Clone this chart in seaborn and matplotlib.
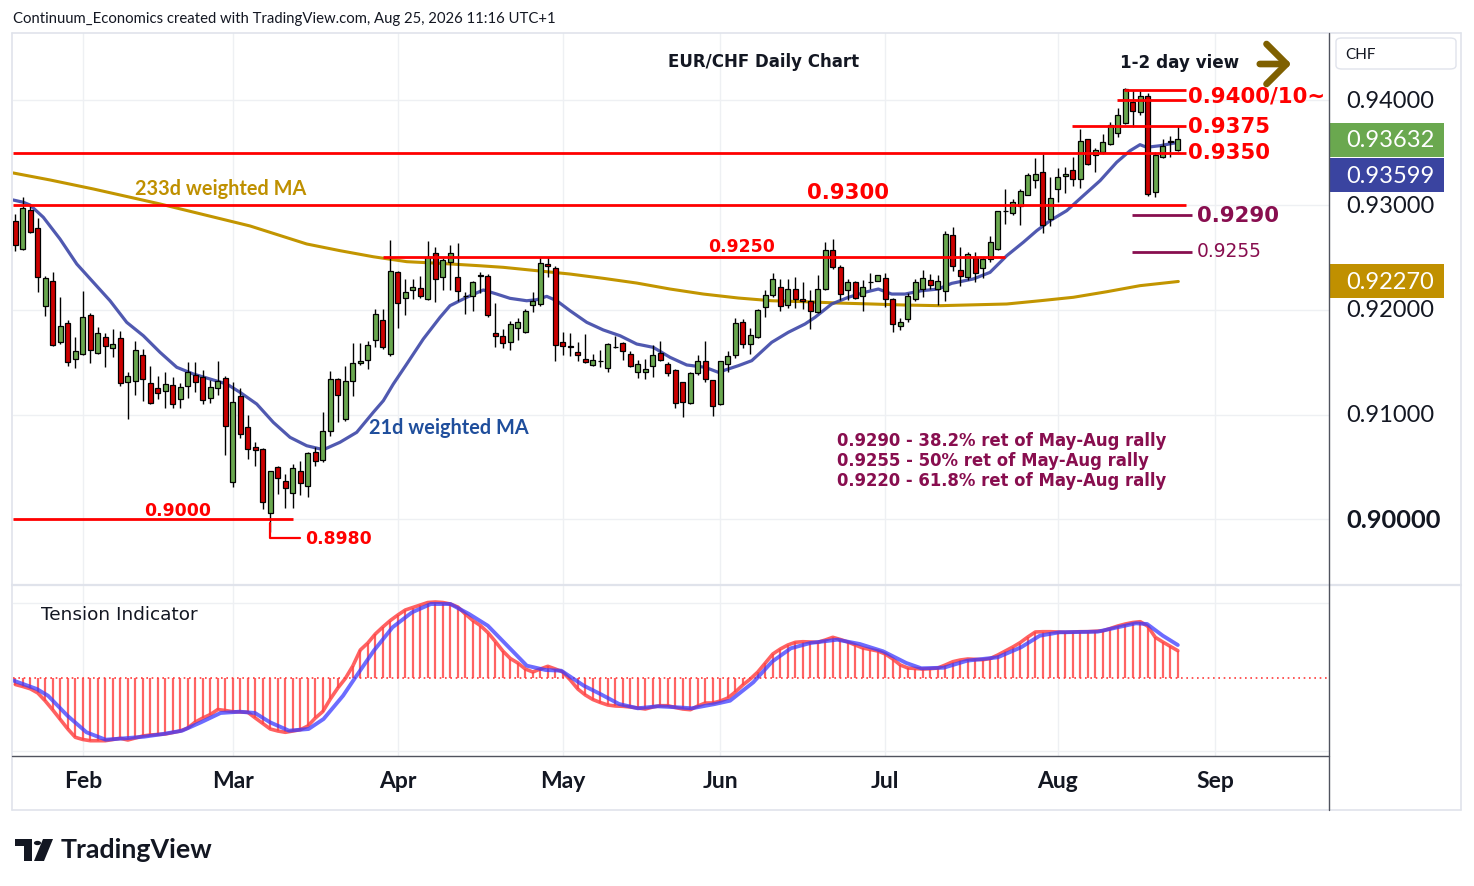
import numpy as np
import pandas as pd
import matplotlib
matplotlib.use("Agg")
import matplotlib.pyplot as plt
import matplotlib.transforms as mtransforms
from matplotlib.patches import Rectangle, Polygon, Circle, FancyArrowPatch, FancyBboxPatch
from matplotlib.lines import Line2D
import seaborn as sns

sns.set_theme(style="white")
plt.rcParams['font.family'] = ['Lato', 'DejaVu Sans']
DV = ['DejaVu Sans']

# ---------------- DATA ----------------
start_date = "2026-01-20"
end_date = "2026-08-25"

opens = [0.92844,0.92580,0.92949,0.92778,0.92039,0.92272,0.91695,0.91871,0.91527,0.91575,
         0.91947,0.91584,0.91737,0.91632,0.91727,0.91307,0.91317,0.91565,0.91298,0.91250,
         0.91221,0.91279,0.91145,0.91269,0.91374,0.91355,0.91155,0.91250,0.91345,0.90353,
         0.91174,0.90878,0.90687,0.90671,0.90057,0.90496,0.90362,0.90248,0.90458,0.90314,
         0.90639,0.90563,0.90839,0.91336,0.90954,0.91317,0.91489,0.91517,0.91708,0.91899,
         0.91575,0.92357,0.92109,0.92186,0.92205,0.92100,0.92539,0.92310,0.92453,0.92310,
         0.92128,0.92128,0.92322,0.92319,0.91775,0.91752,0.91689,0.91823,0.91785,0.92042,
         0.92052,0.92434,0.92396,0.91689,0.91651,0.91594,0.91527,0.91470,0.91508,0.91441,
         0.91641,0.91680,0.91575,0.91403,0.91403,0.91460,0.91584,0.91479,0.91422,0.91307,
         0.91107,0.91393,0.91508,0.91326,0.91097,0.91479,0.91565,0.91880,0.91670,0.91737,
         0.92023,0.92138,0.92214,0.92042,0.92195,0.92100,0.92081,0.91976,0.92195,0.92568,
         0.92405,0.92186,0.92262,0.92128,0.92262,0.92272,0.92300,0.92100,0.91842,0.91909,
         0.92100,0.92195,0.92281,0.92195,0.92176,0.92711,0.92377,0.92310,0.92491,0.92396,
         0.92482,0.92577,0.92940,0.92921,0.92988,0.93093,0.93236,0.93312,0.92863,0.93150,
         0.93274,0.93331,0.93245,0.93627,0.93474,0.93503,0.93579,0.93685,0.93780,0.93980,
         0.93885,0.94038,0.93121,0.93455,0.93599,0.93522]
highs = [0.92914,0.93074,0.93010,0.92873,0.92319,0.92360,0.92119,0.91902,0.91737,0.92179,
         0.91966,0.91835,0.91775,0.91813,0.91794,0.91406,0.91699,0.91622,0.91460,0.91365,
         0.91406,0.91355,0.91298,0.91498,0.91498,0.91422,0.91326,0.91508,0.91365,0.91307,
         0.91250,0.90995,0.90735,0.90680,0.90465,0.90505,0.90432,0.90527,0.90553,0.90645,
         0.90687,0.91027,0.91412,0.91345,0.91460,0.91680,0.91683,0.91699,0.92007,0.92004,
         0.92663,0.92367,0.92294,0.92294,0.92319,0.92653,0.92596,0.92491,0.92615,0.92634,
         0.92167,0.92277,0.92363,0.92341,0.92062,0.91816,0.91890,0.91921,0.92004,0.92167,
         0.92501,0.92501,0.92415,0.91785,0.91775,0.91689,0.91766,0.91575,0.91613,0.91680,
         0.91746,0.91689,0.91603,0.91517,0.91527,0.91661,0.91699,0.91498,0.91431,0.91312,
         0.91403,0.91565,0.91699,0.91329,0.91511,0.91609,0.91918,0.91912,0.91823,0.92007,
         0.92186,0.92348,0.92291,0.92291,0.92310,0.92262,0.92186,0.92329,0.92644,0.92673,
         0.92424,0.92291,0.92272,0.92281,0.92348,0.92332,0.92348,0.92109,0.91918,0.92157,
         0.92291,0.92377,0.92338,0.92329,0.92749,0.92787,0.92596,0.92548,0.92548,0.92501,
         0.92701,0.92942,0.93153,0.93054,0.93150,0.93303,0.93446,0.93484,0.93264,0.93350,
         0.93360,0.93455,0.93723,0.93630,0.93541,0.93675,0.93790,0.93923,0.94114,0.94095,
         0.94095,0.94066,0.93503,0.93627,0.93656,0.93751]
lows = [0.92558,0.92573,0.92733,0.92167,0.91943,0.91650,0.91670,0.91466,0.91444,0.91568,
        0.91494,0.91577,0.91456,0.91552,0.91275,0.90957,0.91189,0.91129,0.91102,0.91148,
        0.91065,0.91065,0.91065,0.91160,0.91212,0.91103,0.91107,0.91189,0.90616,0.90305,
        0.90773,0.90572,0.90505,0.90098,0.89880,0.90241,0.90104,0.90104,0.90234,0.90209,
        0.90505,0.90544,0.90792,0.90925,0.90935,0.91180,0.91475,0.91434,0.91641,0.91625,
        0.91561,0.91823,0.91950,0.92100,0.92109,0.92095,0.92071,0.92186,0.92186,0.92081,
        0.91962,0.91985,0.92157,0.91928,0.91641,0.91632,0.91613,0.91714,0.91780,0.91976,
        0.92033,0.92310,0.91508,0.91571,0.91556,0.91508,0.91495,0.91460,0.91451,0.91403,
        0.91632,0.91517,0.91455,0.91345,0.91336,0.91355,0.91512,0.91365,0.91059,0.90973,
        0.91102,0.91374,0.91307,0.90983,0.91094,0.91403,0.91536,0.91632,0.91575,0.91735,
        0.91928,0.92119,0.91985,0.92014,0.92014,0.92004,0.91813,0.91966,0.92186,0.92386,
        0.92090,0.92090,0.92100,0.91985,0.92195,0.92270,0.92023,0.91785,0.91804,0.91880,
        0.92081,0.92119,0.92195,0.92042,0.92081,0.92367,0.92224,0.92281,0.92262,0.92300,
        0.92453,0.92575,0.92816,0.92902,0.92806,0.93091,0.93159,0.92730,0.92802,0.93026,
        0.93112,0.93179,0.93159,0.93386,0.93312,0.93484,0.93570,0.93646,0.93778,0.93742,
        0.93856,0.93083,0.93074,0.93446,0.93455,0.93520]
closes = [0.92618,0.92968,0.92745,0.92310,0.92300,0.91661,0.91842,0.91498,0.91603,0.91928,
          0.91619,0.91775,0.91651,0.91673,0.91298,0.91365,0.91613,0.91336,0.91107,0.91202,
          0.91288,0.91097,0.91260,0.91403,0.91307,0.91135,0.91260,0.91317,0.90887,0.91116,
          0.90811,0.90668,0.90661,0.90162,0.90458,0.90391,0.90295,0.90486,0.90343,0.90629,
          0.90553,0.90839,0.91336,0.91183,0.91317,0.91489,0.91508,0.91661,0.91957,0.91641,
          0.92367,0.92062,0.92167,0.92214,0.92128,0.92501,0.92291,0.92472,0.92539,0.92176,
          0.92133,0.92262,0.92329,0.91953,0.91746,0.91680,0.91861,0.91880,0.91985,0.92081,
          0.92443,0.92415,0.91661,0.91651,0.91641,0.91565,0.91498,0.91517,0.91511,0.91670,
          0.91644,0.91603,0.91460,0.91479,0.91431,0.91565,0.91517,0.91393,0.91107,0.91116,
          0.91393,0.91508,0.91336,0.91078,0.91508,0.91561,0.91871,0.91670,0.91756,0.91995,
          0.92138,0.92291,0.92033,0.92195,0.92100,0.92081,0.91985,0.92195,0.92568,0.92405,
          0.92147,0.92262,0.92109,0.92214,0.92265,0.92329,0.92100,0.91861,0.91880,0.92128,
          0.92262,0.92300,0.92233,0.92272,0.92720,0.92415,0.92319,0.92529,0.92348,0.92482,
          0.92644,0.92940,0.92943,0.93026,0.93131,0.93284,0.93293,0.92806,0.93064,0.93264,
          0.93293,0.93245,0.93608,0.93389,0.93522,0.93599,0.93761,0.93856,0.94105,0.93895,
          0.94038,0.93102,0.93474,0.93560,0.93608,0.93632]

# Tension indicator (per bar) and its smoothed signal (read at sample bars)
tension = [-0.65,-0.85,-1.08,-1.5,-2.3,-3.2,-4.15,-5.1,-5.93,-6.15,
           -6.27,-6.27,-6.27,-6.15,-6.03,-6.2,-6.0,-5.8,-5.7,-5.65,
           -5.6,-5.45,-5.3,-5.0,-4.4,-4.0,-3.65,-3.15,-3.25,-3.37,
           -3.4,-3.43,-4.0,-4.55,-5.1,-5.3,-5.43,-5.3,-5.17,-4.8,
           -4.0,-3.35,-2.1,-1.0,-0.05,1.2,2.8,3.5,4.4,5.1,
           5.75,6.3,6.8,7.05,7.3,7.55,7.6,7.55,7.4,7.1,
           6.4,5.75,5.25,4.55,3.65,2.7,1.95,1.5,0.9,0.6,
           0.9,1.17,0.9,0.6,-0.2,-1.1,-1.7,-2.15,-2.45,-2.7,
           -2.8,-2.83,-2.9,-3.0,-3.1,-2.9,-2.77,-2.77,-2.95,-3.1,
           -3.17,-2.8,-2.5,-2.5,-2.3,-2.0,-1.4,-0.7,-0.1,0.6,
           1.5,2.4,2.9,3.3,3.57,3.63,3.6,3.57,3.8,4.07,
           3.85,3.6,3.3,3.0,2.85,2.7,2.4,1.9,1.3,1.0,
           0.95,0.9,0.93,1.0,1.3,1.63,1.8,1.9,1.87,1.83,
           1.95,2.3,2.7,3.1,3.55,4.1,4.6,4.63,4.63,4.6,
           4.57,4.6,4.63,4.63,4.67,4.72,4.95,5.2,5.4,5.55,
           5.63,5.17,4.07,3.6,3.17,2.73]
signal_bar = [-0.2,2.87,4.36,6.95,9.49,12.05,14.6,17.16,19.69,22.23,24.76,27.36,29.9,31.96,33.96,
              36.49,39.1,41.1,43.7,45.2,47.8,50.3,52.9,55.4,58.0,60.5,63.0,65.6,68.2,70.7,72.8,
              75.8,78.0,80.5,83.0,85.6,88.2,90.2,93.3,95.3,98.4,100.9,103.4,106.0,109.6,112.6,
              115.7,118.8,120.8,123.8,126.9,131.0,134.1,136.6,139.2,144.3,149.4,150.9,153.0,155.0]
signal_val = [-0.27,-1.1,-1.77,-3.77,-5.43,-6.17,-6.03,-5.87,-5.6,-5.27,-4.43,-3.5,-3.37,-3.5,-4.43,
              -5.27,-5.1,-4.1,-1.77,-0.1,2.73,5.07,6.57,7.4,7.4,6.4,5.23,3.23,1.23,0.8,0.73,
              -0.77,-1.6,-2.6,-3.03,-2.83,-2.93,-3.03,-2.6,-2.27,-0.43,1.63,2.97,3.5,3.83,3.4,
              2.67,1.5,0.97,1.03,1.73,2.07,3.07,4.23,4.57,4.63,5.47,5.4,4.23,3.3]

# Moving averages read at sample bars
ma21_bar = [-0.3,1.07,1.96,3.73,5.96,8.19,10.4,12.63,14.85,17.07,19.29,21.52,23.73,25.96,28.19,29.96,
            32.19,34.4,36.63,38.85,41.07,43.29,45.52,47.73,49.07,50.4,52.19,54.4,56.63,57.96,60.19,
            62.4,64.19,65.96,68.19,69.52,70.85,72.19,73.96,76.19,78.4,80.63,82.85,85.07,87.29,89.52,
            91.96,93.73,96.4,98.19,100.85,103.07,105.29,106.63,108.85,111.07,113.29,115.07,116.85,
            118.63,120.85,123.07,124.85,127.73,129.96,132.19,134.4,136.19,137.96,140.19,142.4,144.63,
            146.85,148.63,149.96,150.85,152.63,155.07]
ma21_val = [0.93048,0.93026,0.93000,0.92883,0.92675,0.92437,0.92262,0.92086,0.91880,0.91752,0.91594,
            0.91451,0.91387,0.91339,0.91291,0.91212,0.91100,0.90925,0.90782,0.90702,0.90664,0.90735,
            0.90830,0.91021,0.91132,0.91291,0.91482,0.91721,0.91928,0.92039,0.92119,0.92189,0.92150,
            0.92109,0.92086,0.92096,0.92128,0.92086,0.91991,0.91880,0.91807,0.91752,0.91673,0.91641,
            0.91546,0.91473,0.91451,0.91403,0.91466,0.91514,0.91689,0.91785,0.91864,0.91928,0.92055,
            0.92119,0.92167,0.92198,0.92150,0.92150,0.92182,0.92198,0.92252,0.92294,0.92357,0.92516,
            0.92644,0.92755,0.92850,0.92946,0.93089,0.93232,0.93408,0.93518,0.93576,0.93551,0.93566,
            0.93599]
ma233_bar = [-0.3,4.63,10.4,19.29,31.29,38.85,43.29,47.73,52.19,56.63,61.96,65.07,69.52,73.96,78.4,
             82.85,87.29,91.73,96.4,100.85,105.29,109.73,114.19,118.63,123.29,132.19,136.63,141.07,
             145.52,149.96,155.07]
ma233_val = [0.93306,0.93239,0.93153,0.93010,0.92800,0.92628,0.92564,0.92506,0.92459,0.92443,0.92420,
             0.92405,0.92373,0.92341,0.92300,0.92255,0.92198,0.92150,0.92112,0.92086,0.92077,0.92064,
             0.92055,0.92045,0.92039,0.92055,0.92086,0.92119,0.92172,0.92230,0.92270]

month_labels = ["Feb", "Mar", "Apr", "May", "Jun", "Jul", "Aug", "Sep"]
price_ticks = [0.90, 0.91, 0.92, 0.93, 0.94]
price_tick_labels = ["0.90000", "0.91000", "0.92000", "0.93000", "0.94000"]

red_level_prices = [0.9410, 0.9400, 0.9375, 0.9350, 0.9300, 0.9250, 0.9000]
purple_level_prices = [0.9290, 0.9255]
low_mark_price = 0.8982
retracement_notes = ["0.9290 - 38.2% ret of May-Aug rally",
                     "0.9255 - 50% ret of May-Aug rally",
                     "0.9220 - 61.8% ret of May-Aug rally"]

# ---------------- FIGURE ----------------
W, H = 1474, 887
fig = plt.figure(figsize=(W / 100, H / 100), dpi=100)
fig.patch.set_facecolor("white")


def fx(x):
    return x / W


def fy(y):
    return 1 - y / H


ax = fig.add_axes([fx(13), fy(585), (1329 - 13) / W, (585 - 34) / H])
axi = fig.add_axes([fx(13), fy(757), (1329 - 13) / W, (757 - 586) / H], sharex=ax)

dates = pd.bdate_range(start_date, end_date)
n = len(dates)
xb = np.arange(n)
o = np.array(opens); h = np.array(highs); l = np.array(lows); c = np.array(closes)

# month tick positions from an extended business-day calendar
cal = pd.bdate_range(start_date, "2026-09-30")
firsts = pd.Series(np.arange(len(cal)), index=cal).groupby([cal.year, cal.month]).first()
month_pos = [int(firsts.loc[(2026, m)]) for m in range(2, 10)]

grid_c = "#eef0f3"
for a in (ax, axi):
    a.set_facecolor("white")
    for s in a.spines.values():
        s.set_visible(False)
    a.set_xticks(month_pos)
    a.grid(True, color=grid_c, lw=1.0, zorder=0)
    a.tick_params(left=False, right=False, bottom=False, top=False, labelleft=False)

ax.set_xlim(-0.31, 175.16)
ax.set_ylim(0.89382, 0.94642)
ax.set_yticks(price_ticks)
ax.tick_params(labelbottom=False)

# moving averages
sns.lineplot(x=ma233_bar, y=ma233_val, ax=ax, color="#c29500", lw=2.2, zorder=2, sort=False, estimator=None)
sns.lineplot(x=ma21_bar, y=ma21_val, ax=ax, color="#3d47a8", lw=2.3, alpha=0.9, zorder=2, sort=False, estimator=None)

# candles
up = c >= o
body_lo = np.minimum(o, c)
body_h = np.maximum(np.abs(c - o), 0.00004)
ax.vlines(xb, l, h, color="black", lw=1.0, zorder=3)
ax.bar(xb[up], body_h[up], bottom=body_lo[up], width=0.66, color="#6aa84f", edgecolor="black", linewidth=0.9, zorder=4)
ax.bar(xb[~up], body_h[~up], bottom=body_lo[~up], width=0.66, color="#cc0000", edgecolor="black", linewidth=0.9, zorder=4)

# level lines
RED = "#ff0000"
PURP = "#880e4f"
level_extents = [(147.8, 156.1), (146.9, 156.1), (140.9, 156.1), (-0.31, 156.1), (-0.31, 156.1), (49.0, 132.0), (-0.31, 37.0)]
for p, (x0, x1) in zip(red_level_prices, level_extents):
    ax.plot([x0, x1], [p, p], color=RED, lw=2.0, zorder=6, solid_capstyle="butt")
for p in purple_level_prices:
    ax.plot([148.9, 156.85], [p, p], color=PURP, lw=2.0, zorder=6, solid_capstyle="butt")
low_bar = int(np.argmin(l))
ax.plot([low_bar, low_bar, low_bar + 4.0], [0.8996, low_mark_price, low_mark_price], color=RED, lw=1.6, zorder=6)

# level labels
big = dict(family=DV, fontsize=15.3, fontweight="bold", va="center", ha="left", zorder=7)
mid = dict(family=DV, fontsize=12.4, fontweight="bold", va="center", zorder=7)
ax.text(156.36, 0.94050, "0.9400/10~", color=RED, **big)
ax.text(156.36, 0.93754, "0.9375", color=RED, **big)
ax.text(156.36, 0.93506, "0.9350", color=RED, **big)
ax.text(157.56, 0.92905, "0.9290", color=PURP, **big)
ax.text(157.56, 0.92561, "0.9255", color=PURP, family=DV, fontsize=13.4, va="center", ha="left", zorder=7)
ax.text(111.0, 0.93124, "0.9300", color=RED, family=DV, fontsize=15.3, fontweight="bold", va="center", ha="center", zorder=7)
ax.text(96.9, 0.92609, "0.9250", color=RED, ha="center", **mid)
ax.text(21.7, 0.90088, "0.9000", color=RED, ha="center", **mid)
ax.text(38.6, 0.89821, "0.8980", color=RED, ha="left", **mid)
ax.text(15.96, 0.93162, "233d weighted MA", color="#bf9000", fontsize=14.3, fontweight="bold", va="center", ha="left", zorder=7)
ax.text(47.2, 0.90881, "21d weighted MA", color="#1f4e9c", fontsize=14.3, fontweight="bold", va="center", ha="left", zorder=7)
for k, note in enumerate(retracement_notes):
    ax.text(109.6, 0.90756 - k * 0.00191, note, color=PURP, family=DV, fontsize=11.9, fontweight="bold",
            va="center", ha="left", zorder=7)

# ---------------- Tension indicator ----------------
axi.set_ylim(-7.8, 9.3)
axi.set_yticks([-7.3, 7.5])
axi.vlines(xb, 0, tension, color="#ff5252", lw=1.6, alpha=0.9, zorder=2)
axi.axhline(0, color="#ff3b3b", lw=1.2, ls=(0, (1, 2.2)), zorder=2)
sns.lineplot(x=xb, y=tension, ax=axi, color="#ff4545", lw=2.6, alpha=0.85, zorder=3, estimator=None)
sns.lineplot(x=signal_bar, y=signal_val, ax=axi, color="#3b3bff", lw=2.8, alpha=0.75, zorder=4, sort=False, estimator=None)
axi.set_xticklabels(month_labels, fontsize=16.5, fontweight="bold", color="#131722")
axi.tick_params(labelbottom=True, pad=4)
axi.set_xlabel(""); axi.set_ylabel(""); ax.set_xlabel(""); ax.set_ylabel("")
fig.text(fx(41), fy(615), "Tension Indicator", family=DV, fontsize=13.3, color="#131722", va="center", ha="left")

# ---------------- Right price scale ----------------
bt = mtransforms.blended_transform_factory(fig.transFigure, ax.transData)
for p, lab in zip(price_ticks, price_tick_labels):
    bold = lab == "0.90000"
    fig.text(fx(1346), p, lab, transform=bt, fontsize=18.3 if bold else 17, fontweight="bold" if bold else "normal",
             color="#131722", va="center", ha="left")

box_h = 34 / 10475
value_boxes = [(closes[-1], 0.93625, "#6aa84f"), (ma21_val[-1], 0.93283, "#3a44a0"), (ma233_val[-1], 0.92274, "#c09000")]
for val, centre, col in value_boxes:
    fig.add_artist(Rectangle((fx(1330), centre - box_h / 2), fx(1444) - fx(1330), box_h, transform=bt,
                             facecolor=col, edgecolor="none", zorder=5))
    fig.text(fx(1346), centre, f"{val:.5f}", transform=bt, fontsize=17, color="white", va="center", ha="left", zorder=6)

fig.add_artist(FancyBboxPatch((fx(1336), fy(70)), fx(1456) - fx(1336), fy(39) - fy(70),
                              boxstyle="round,pad=0,rounding_size=0.004", transform=fig.transFigure,
                              facecolor="white", edgecolor="#e0e3eb", lw=1.0))
fig.text(fx(1345), fy(55), "CHF", fontsize=11, color="#131722", va="center", ha="left")

# ---------------- Frame ----------------
frame_c = "#e0e3eb"
dark_c = "#50535e"
def fline(x0, y0, x1, y1, col, lw):
    fig.add_artist(Line2D([fx(x0), fx(x1)], [fy(y0), fy(y1)], transform=fig.transFigure, color=col, lw=lw, zorder=10))
fline(12, 34, 1461, 34, frame_c, 1.2)
fline(12, 811, 1461, 811, frame_c, 1.2)
fline(12, 34, 12, 811, frame_c, 1.2)
fline(1461, 34, 1461, 811, frame_c, 1.2)
fline(12, 585.5, 1461, 585.5, frame_c, 1.6)
fline(1329, 34, 1329, 811, dark_c, 1.0)
fline(12, 757, 1329, 757, dark_c, 1.0)

# ---------------- Titles / header ----------------
fig.text(fx(13), fy(19), "Continuum_Economics created with TradingView.com, Aug 25, 2026 11:16 UTC+1",
         fontsize=10.7, color="#131722", va="center", ha="left")
fig.text(fx(764), fy(62), "EUR/CHF Daily Chart", family=DV, fontsize=12, fontweight="bold", color="#131722",
         va="center", ha="center")
fig.text(fx(1120), fy(63), "1-2 day view", family=DV, fontsize=12.1, fontweight="bold", color="#131722",
         va="center", ha="left")
fig.add_artist(FancyArrowPatch((fx(1257), fy(65)), (fx(1294), fy(65)), transform=fig.transFigure,
                               arrowstyle="->,head_length=0.6,head_width=0.6", mutation_scale=24,
                               color="#7f6000", lw=4.8))

# TradingView logo
fig.add_artist(Polygon([(fx(15), fy(840)), (fx(32), fy(840)), (fx(32), fy(862)), (fx(24), fy(862)),
                        (fx(24), fy(847)), (fx(15), fy(847))], closed=True, transform=fig.transFigure,
                       facecolor="#131722", edgecolor="none"))
fig.add_artist(Circle((fx(37.5), fy(844)), 3.6 / W, transform=fig.transFigure, facecolor="#131722", edgecolor="none"))
fig.add_artist(Polygon([(fx(43), fy(840)), (fx(53), fy(840)), (fx(44), fy(862)), (fx(34), fy(862))],
                       closed=True, transform=fig.transFigure, facecolor="#131722", edgecolor="none"))
fig.text(fx(61), fy(850), "TradingView", fontsize=19.3, fontweight="bold", color="#131722", va="center", ha="left")

fig.savefig("out.png", dpi=100, facecolor="white")
